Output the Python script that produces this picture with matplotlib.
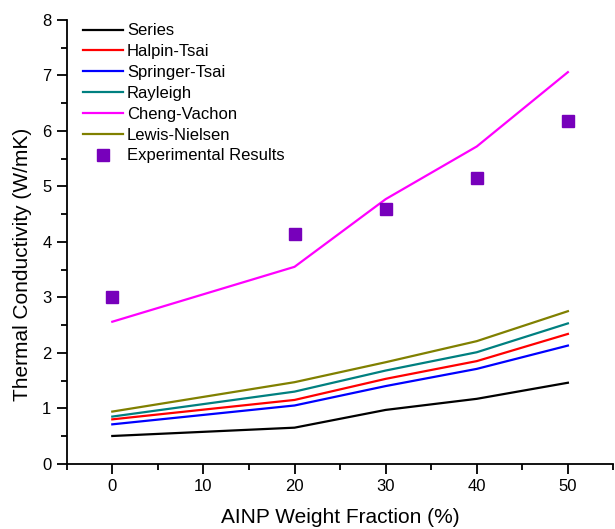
import matplotlib
matplotlib.use("Agg")
import matplotlib.pyplot as plt
from matplotlib.ticker import MultipleLocator

plt.rcParams['font.family'] = ['Liberation Sans', 'DejaVu Sans']

# datos
fraccion = [0, 20, 30, 40, 50]
series = [0.50, 0.65, 0.97, 1.17, 1.46]
halpin_tsai = [0.80, 1.15, 1.53, 1.85, 2.34]
springer_tsai = [0.71, 1.05, 1.40, 1.71, 2.13]
rayleigh = [0.85, 1.30, 1.68, 2.01, 2.53]
cheng_vachon = [2.56, 3.55, 4.77, 5.72, 7.06]
lewis_nielsen = [0.94, 1.47, 1.83, 2.21, 2.75]
experimental = [3.00, 4.14, 4.59, 5.16, 6.18]

fig = plt.figure(figsize=(6.15, 5.29), dpi=100)
ax = fig.add_axes([0.1085, 0.1234, 0.889, 0.8388])

ax.plot(fraccion, series, color='black', lw=1.6, label='Series')
ax.plot(fraccion, halpin_tsai, color='#FF0000', lw=1.6, label='Halpin-Tsai')
ax.plot(fraccion, springer_tsai, color='#0000FF', lw=1.6, label='Springer-Tsai')
ax.plot(fraccion, rayleigh, color='#008080', lw=1.6, label='Rayleigh')
ax.plot(fraccion, cheng_vachon, color='#FF00FF', lw=1.6, label='Cheng-Vachon')
ax.plot(fraccion, lewis_nielsen, color='#808000', lw=1.6, label='Lewis-Nielsen')
ax.plot(fraccion, experimental, ls='none', marker='s', ms=8.5, color='#7700BB',
        label='Experimental Results')

ax.set_xlim(-5, 55)
ax.set_ylim(0, 8)
ax.xaxis.set_major_locator(MultipleLocator(10))
ax.xaxis.set_minor_locator(MultipleLocator(5))
ax.yaxis.set_major_locator(MultipleLocator(1))
ax.yaxis.set_minor_locator(MultipleLocator(0.5))

ax.spines['top'].set_visible(False)
ax.spines['right'].set_visible(False)
ax.spines['left'].set_linewidth(1.3)
ax.spines['bottom'].set_linewidth(1.3)
ax.tick_params(which='major', direction='out', length=7, width=1.3, labelsize=12, pad=4)
ax.tick_params(which='minor', direction='out', length=4, width=1.3)

# etiquetas de los ejes
ax.set_xlabel('AINP Weight Fraction (%)', fontsize=15)
ax.set_ylabel('Thermal Conductivity (W/mK)', fontsize=15)
ax.xaxis.set_label_coords(0.5, -0.1)
ax.yaxis.set_label_coords(-0.064, 0.45)

leg = ax.legend(loc='upper left', bbox_to_anchor=(0.0176, 1.0075), frameon=False,
                fontsize=12, handlelength=2.4, handletextpad=0.24,
                labelspacing=0.35, borderaxespad=0.0)

fig.savefig('out.png', dpi=100)
